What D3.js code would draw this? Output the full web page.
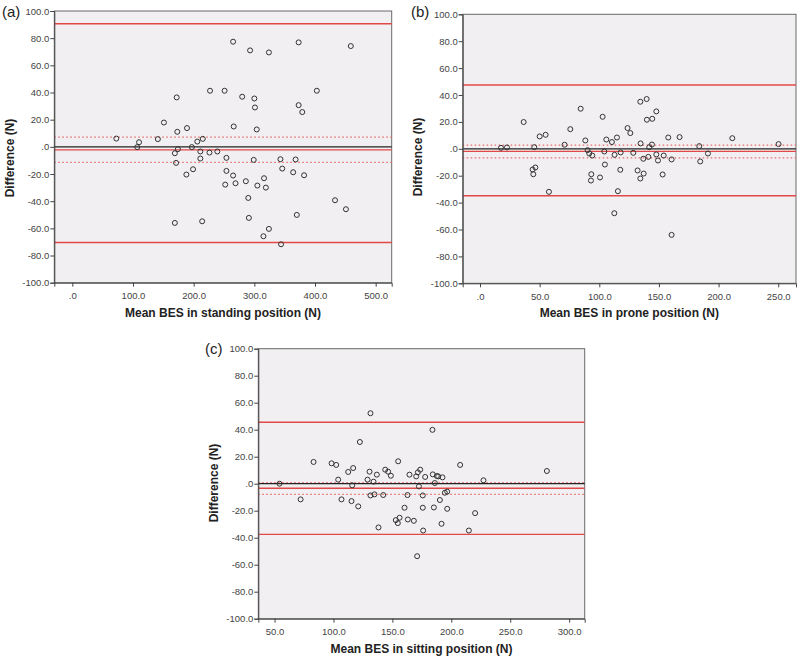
<!DOCTYPE html>
<html><head><meta charset="utf-8">
<script src="https://cdn.jsdelivr.net/npm/d3@7"></script>
<style>body{margin:0;background:#fff;} svg{display:block;}</style>
</head><body>
<svg id="chart" width="800" height="659"></svg>
<script>
// ---------- data ----------
const standingMean = [72.5,107,110,141,151,172,173,169,174,171,169,189,188,197,199,206,215,211,211,214,226,227,239,251,254,254,252,265,266,265,269,280,286,290,291,293,300,301,299,304,305,316,319,315,324,324,343,346,344,364,368,373,373,379,370,382,403,433,451,459];
const standingDiff = [6.1,-0.2,3.4,5.7,17.9,36.4,11.1,-4.7,-1.7,-11.8,-56.0,13.8,-20.4,-0.2,-16.5,3.9,5.9,-3.4,-8.6,-54.8,-4.2,41.3,-3.4,41.3,-8.1,-17.7,-27.8,77.4,15.0,-21.1,-26.8,36.9,-25.3,-37.6,-52.3,71.0,35.6,29.0,-9.6,12.8,-28.5,-23.1,-30.0,-65.8,-60.4,69.5,-9.1,-16.0,-71.7,-18.7,-9.3,76.9,30.7,25.6,-50.1,-20.9,41.3,-39.3,-45.9,74.2];
const proneMean = [17.6,22.6,36.6,45.5,44.1,46.4,44.7,50.0,55.0,57.8,70.9,75.7,84.4,88.3,90.2,91.6,94.1,93.3,93.0,100.6,102.8,104.2,104.7,105.9,110.6,112.8,112.6,114.8,115.6,117.9,117.6,123.7,126.0,128.5,132.1,134.4,134.6,134.4,136.9,137.2,139.7,139.9,141.1,141.9,144.1,144.4,147.8,147.8,149.2,154.0,153.1,157.8,160.6,160.6,167.3,183.8,184.6,191.1,211.5,250.3];
const proneDiff = [0.7,1.0,19.9,1.2,-15.4,-13.9,-18.9,9.2,10.4,-32.0,3.0,14.6,29.8,6.2,-1.0,-3.5,-5.0,-18.9,-23.6,-21.3,23.8,-2.0,-11.7,6.9,5.0,-4.5,-47.9,8.4,-31.5,-2.7,-15.6,15.4,11.7,-3.0,-16.1,35.0,4.0,-22.1,-7.4,-18.4,37.0,21.6,-6.0,1.2,3.2,22.3,27.8,-4.2,-8.7,-5.0,-19.1,8.4,-7.9,-64.0,8.7,2.0,-9.4,-3.5,7.9,3.5];
const sittingMean = [54.2,72.1,83.1,98.4,102.3,104.0,106.8,112.5,115.9,116.7,115.3,121.0,122.4,128.9,130.6,131.4,131.4,134.0,134.8,136.8,138.2,142.2,143.9,146.4,148.7,152.9,154.6,154.9,156.1,160.3,162.8,163.1,164.5,168.2,170.2,171.0,171.6,172.5,173.6,175.8,175.8,176.1,177.8,184.0,184.3,185.2,186.0,187.7,188.9,190.3,191.7,192.5,194.5,196.5,196.5,207.5,214.9,220.2,227.3,281.1];
const sittingDiff = [0.0,-11.6,16.1,15.1,13.9,3.0,-11.6,8.7,-1.2,11.6,-12.9,-16.8,30.9,3.0,8.9,52.2,-8.7,1.5,-7.9,6.7,-32.4,-8.4,10.4,8.9,5.9,-27.0,-29.2,16.6,-25.2,-17.8,-8.4,-26.5,6.7,-27.5,5.4,-53.7,8.4,-2.0,10.4,-8.7,-17.8,-34.7,5.0,39.9,6.9,-17.6,0.5,5.7,5.4,-12.1,-29.7,4.7,-6.7,-5.9,-18.6,13.9,-34.7,-21.8,2.5,9.4];

// reference lines: [upper LoA, mean, CI high, CI low, lower LoA]
const standingLines = [90.6, -2.2, 7.1, -11.5, -70.4];
const proneLines = [47.4, -1.9, 2.8, -6.7, -34.9];
const sittingLines = [45.5, -3.4, 0.7, -7.9, -37.5];

const standingTicks = [0,100,200,300,400,500];
const proneTicks = [0,50,100,150,200,250];
const sittingTicks = [50,100,150,200,250,300];
const yTicks = [-100,-80,-60,-40,-20,0,20,40,60,80,100];

const panelLabels = ["(a)","(b)","(c)"];
const xTitles = ["Mean BES in standing position (N)","Mean BES in prone position (N)","Mean BES in sitting position (N)"];
const yTitle = "Difference (N)";

// ---------- layout ----------
const panels = [
  {mean:standingMean, diff:standingDiff, lines:standingLines, ticks:standingTicks,
   left:54.3, right:391.7, top:11, bottom:282.7, xdom:[-29.7,526.4], label:[2,17], title:xTitles[0], ytx:10, yty:158},
  {mean:proneMean, diff:proneDiff, lines:proneLines, ticks:proneTicks,
   left:462.7, right:796, top:14.3, bottom:283.3, xdom:[-14.5,264.9], label:[411,17], title:xTitles[1], ytx:418, yty:157},
  {mean:sittingMean, diff:sittingDiff, lines:sittingLines, ticks:sittingTicks,
   left:258.3, right:584.7, top:348.7, bottom:618.7, xdom:[36.2,313.2], label:[205,354], title:xTitles[2], ytx:214, yty:483}
];

const svg = d3.select("#chart");
const fmt = d => d === 0 ? ".0" : d.toFixed(1);
const RED = "#e34848";
const RED_DOT = "#ec6868";

panels.forEach((p, i) => {
  const x = d3.scaleLinear().domain(p.xdom).range([p.left, p.right]);
  const y = d3.scaleLinear().domain([-100,100]).range([p.bottom, p.top]);
  const g = svg.append("g");

  g.append("rect").attr("x", p.left).attr("y", p.top)
    .attr("width", p.right - p.left).attr("height", p.bottom - p.top)
    .attr("fill", "#f1eff1").attr("stroke", "#6a6a6a").attr("stroke-width", 1);

  // reference lines
  const [up, mn, ch, cl, lo] = p.lines;
  const hline = (v, color, w, dash) => g.append("line")
    .attr("x1", p.left).attr("x2", p.right).attr("y1", y(v)).attr("y2", y(v))
    .attr("stroke", color).attr("stroke-width", w).attr("stroke-dasharray", dash || null);
  hline(up, RED, 1.4);
  hline(lo, RED, 1.4);
  hline(ch, RED_DOT, 1.3, "1.5,2.5");
  hline(cl, RED_DOT, 1.3, "1.5,2.5");
  hline(0, "#222", 1.2);
  hline(mn, RED, 1.4);

  // points
  g.selectAll("circle.pt").data(p.mean.map((m, k) => [m, p.diff[k]])).enter()
    .append("circle").attr("class", "pt")
    .attr("cx", d => x(d[0])).attr("cy", d => y(d[1])).attr("r", 2.5)
    .attr("fill", "none").attr("stroke", "#333").attr("stroke-width", 1);

  // axes
  const xa = d3.axisBottom(x).tickValues(p.ticks).tickFormat(fmt).tickSize(4).tickPadding(6);
  const ya = d3.axisLeft(y).tickValues(yTicks).tickFormat(fmt).tickSize(4).tickPadding(1);
  const gx = g.append("g").attr("transform", `translate(0,${p.bottom})`).call(xa);
  const gy = g.append("g").attr("transform", `translate(${p.left},0)`).call(ya);
  [gx, gy].forEach(a => {
    a.select(".domain").attr("stroke", "#444");
    a.selectAll(".tick line").attr("stroke", "#444");
    a.selectAll(".tick text").attr("fill", "#444")
      .style("font-family", "Liberation Sans, Arial, sans-serif").style("font-size", "9.5px");
  });

  // titles
  g.append("text").attr("x", (p.left + p.right) / 2).attr("y", p.bottom + 34)
    .attr("text-anchor", "middle").style("font-family", "Liberation Sans, Arial, sans-serif")
    .style("font-weight", "bold").style("font-size", "12px").attr("fill", "#222").text(p.title);
  g.append("text").attr("transform", `translate(${p.ytx + 4},${p.yty}) rotate(-90)`)
    .attr("text-anchor", "middle").style("font-family", "Liberation Sans, Arial, sans-serif")
    .style("font-weight", "bold").style("font-size", "12px").attr("fill", "#222").text(yTitle);
  g.append("text").attr("x", p.label[0]).attr("y", p.label[1])
    .style("font-family", "Liberation Sans, Arial, sans-serif").style("font-size", "15px")
    .attr("fill", "#222").text(panelLabels[i]);
});
</script>
</body></html>
